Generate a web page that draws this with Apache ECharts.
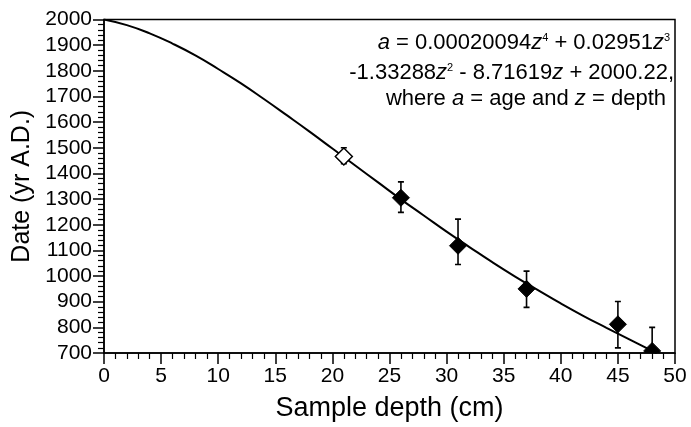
<!DOCTYPE html>
<html><head><meta charset="utf-8">
<script src="https://cdn.jsdelivr.net/npm/echarts@6/dist/echarts.min.js"></script>
<style>html,body{margin:0;padding:0;background:#fff}#c{width:691px;height:427px}</style>
</head><body><div id="c"></div>
<script>
// Curve (fitted age-depth model)
const curveDepth = [0,2,4,6,8,10,12,14,16,18,20,22,24,26,28,30,32,34,36,38,40,42,44,46,48,48.4];
const curveAge   = [2000,1978,1946,1906,1860,1807,1751,1690,1627,1563,1497,1431,1365,1299,1236,1173,1113,1054,998,945,893,844,798,753,708,699];
// Samples
const sampleDepth = [21,26,31,37,45,48];
const sampleAge   = [1466,1305,1118,950,812,708];
const errLow      = [1438,1248,1045,878,720,610];
const errHigh     = [1500,1367,1222,1019,901,800];
const sampleOpen  = [true,false,false,false,false,false];
const xTicks = [0,5,10,15,20,25,30,35,40,45,50];
const yTicks = [700,800,900,1000,1100,1200,1300,1400,1500,1600,1700,1800,1900,2000];

const FONT = 'Liberation Sans, Arial, sans-serif';
const chart = echarts.init(document.getElementById('c'), null, {renderer:'canvas'});

const curveData = curveDepth.map((d,i)=>[d, curveAge[i]]);
const errData = sampleDepth.map((d,i)=>[d, errLow[i], errHigh[i]]);
const ptData = sampleDepth.map((d,i)=>[d, sampleAge[i], sampleOpen[i]?1:0]);

const richEq = {
  i:{fontStyle:'italic', fontFamily:FONT, fontSize:22},
  s:{fontSize:11, fontFamily:FONT, verticalAlign:'top', padding:[0,0,9,0]}
};

option = {
  animation:false,
  backgroundColor:'#fff',
  grid:{left:104, right:16, top:19.5, bottom:73.5, show:true, borderColor:'#000', borderWidth:1.5, backgroundColor:'transparent'},
  xAxis:{
    type:'value', min:xTicks[0], max:xTicks[xTicks.length-1], interval:5,
    axisLine:{onZero:false, lineStyle:{color:'#000', width:1.5}},
    axisTick:{show:true, inside:false, length:11, lineStyle:{color:'#000', width:1.5}},
    minorTick:{show:true, splitNumber:5, length:6, lineStyle:{color:'#000', width:1.2}},
    splitLine:{show:false},
    axisLabel:{color:'#000', fontFamily:FONT, fontSize:21, margin:13},
    name:'Sample depth (cm)', nameLocation:'middle', nameGap:42,
    nameTextStyle:{color:'#000', fontFamily:FONT, fontSize:27}
  },
  yAxis:{
    type:'value', min:yTicks[0], max:yTicks[yTicks.length-1], interval:100,
    axisLine:{onZero:false, lineStyle:{color:'#000', width:1.5}},
    axisTick:{show:true, inside:false, length:11, lineStyle:{color:'#000', width:1.5}},
    minorTick:{show:true, splitNumber:5, length:6, lineStyle:{color:'#000', width:1.2}},
    splitLine:{show:false},
    axisLabel:{color:'#000', fontFamily:FONT, fontSize:21, margin:12, formatter:function(v){return String(v);}},
    name:'Date (yr A.D.)', nameLocation:'middle', nameGap:63, nameRotate:90,
    nameTextStyle:{color:'#000', fontFamily:FONT, fontSize:25}
  },
  series:[
    {type:'line', data:curveData, smooth:true, showSymbol:false, clip:true,
     lineStyle:{color:'#000', width:2}, z:2},
    {type:'custom', data:errData, clip:true, z:3,
     renderItem:function(params, api){
       const x = api.value(0);
       const lo = api.coord([x, api.value(1)]);
       const hi = api.coord([x, api.value(2)]);
       const w = 3;
       const st = {stroke:'#000', lineWidth:1.6};
       return {type:'group', children:[
         {type:'line', shape:{x1:lo[0], y1:lo[1], x2:hi[0], y2:hi[1]}, style:st},
         {type:'line', shape:{x1:lo[0]-w, y1:lo[1], x2:lo[0]+w, y2:lo[1]}, style:st},
         {type:'line', shape:{x1:hi[0]-w, y1:hi[1], x2:hi[0]+w, y2:hi[1]}, style:st}
       ]};
     }},
    {type:'custom', data:ptData, clip:true, z:4,
     renderItem:function(params, api){
       const c = api.coord([api.value(0), api.value(1)]);
       const h = 8.5;
       const open = api.value(2) === 1;
       return {type:'polygon', shape:{points:[[c[0],c[1]-h],[c[0]+h,c[1]],[c[0],c[1]+h],[c[0]-h,c[1]]]},
         style:{fill: open?'#fff':'#000', stroke:'#000', lineWidth: open?1.5:1}};
     }}
  ],
  graphic:[
    {type:'text', right:21, top:32, style:{
      text:'{i|a} = 0.00020094{i|z}{s|4} + 0.02951{i|z}{s|3}', fontFamily:FONT, fontSize:22, fill:'#000', rich:richEq}},
    {type:'text', right:17, top:62, style:{
      text:'-1.33288{i|z}{s|2} - 8.71619{i|z} + 2000.22,', fontFamily:FONT, fontSize:22, fill:'#000', rich:richEq}},
    {type:'text', right:25, top:88, style:{
      text:'where {i|a} = age and {i|z} = depth', fontFamily:FONT, fontSize:22, fill:'#000', rich:richEq}}
  ]
};
chart.setOption(option);
</script></body></html>
